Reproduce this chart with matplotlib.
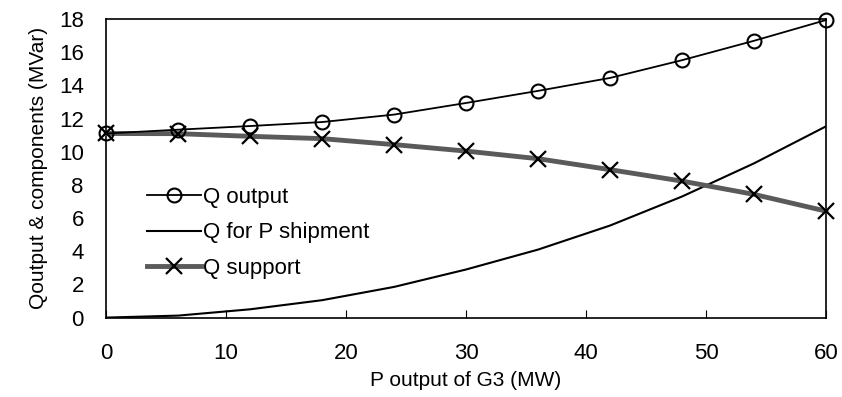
import matplotlib.pyplot as plt

plt.rcParams['font.family'] = ['Liberation Sans', 'DejaVu Sans']

# P output of G3 (MW)
p_output = [0, 6, 12, 18, 24, 30, 36, 42, 48, 54, 60]

# Reactive power components (MVar)
q_output = [11.1, 11.33, 11.55, 11.79, 12.24, 12.94, 13.67, 14.45, 15.52, 16.69, 17.94]
q_shipment = [0.0, 0.12, 0.5, 1.05, 1.85, 2.9, 4.1, 5.55, 7.3, 9.3, 11.53]
q_support = [11.1, 11.09, 10.93, 10.79, 10.43, 10.04, 9.58, 8.92, 8.23, 7.43, 6.42]

fig = plt.figure(figsize=(8.42, 3.97), dpi=100)
ax = fig.add_axes([0.126, 0.2, 0.855, 0.752])

ax.plot(p_output, q_output, color='black', lw=1.3, marker='o', ms=10,
        mfc='none', mec='black', mew=1.5, label='Q output', clip_on=False, zorder=4)
ax.plot(p_output, q_shipment, color='black', lw=1.5, label='Q for P shipment')
ax.plot(p_output, q_support, color='#5a5a5a', lw=3.5, marker='x', ms=11,
        mec='black', mew=1.6, label='Q support', clip_on=False, zorder=3)

ax.set_xlim(0, 60)
ax.set_ylim(0, 18)
ax.set_xticks(range(0, 61, 10))
ax.set_yticks(range(0, 19, 2))
ax.tick_params(axis='x', direction='in', length=6, pad=18, labelsize=16)
ax.tick_params(axis='y', length=0, pad=16, labelsize=16)
for side in ax.spines.values():
    side.set_linewidth(1.2)

ax.set_xlabel('P output of G3 (MW)', fontsize=15, labelpad=5)
ax.set_ylabel('Qoutput & components (MVar)', fontsize=15, labelpad=8)

ax.legend(loc='lower left', bbox_to_anchor=(0.045, 0.1), frameon=False,
          fontsize=16, handlelength=2.4, handletextpad=0.1, labelspacing=0.65,
          borderaxespad=0)

fig.savefig('out.png', dpi=100)
